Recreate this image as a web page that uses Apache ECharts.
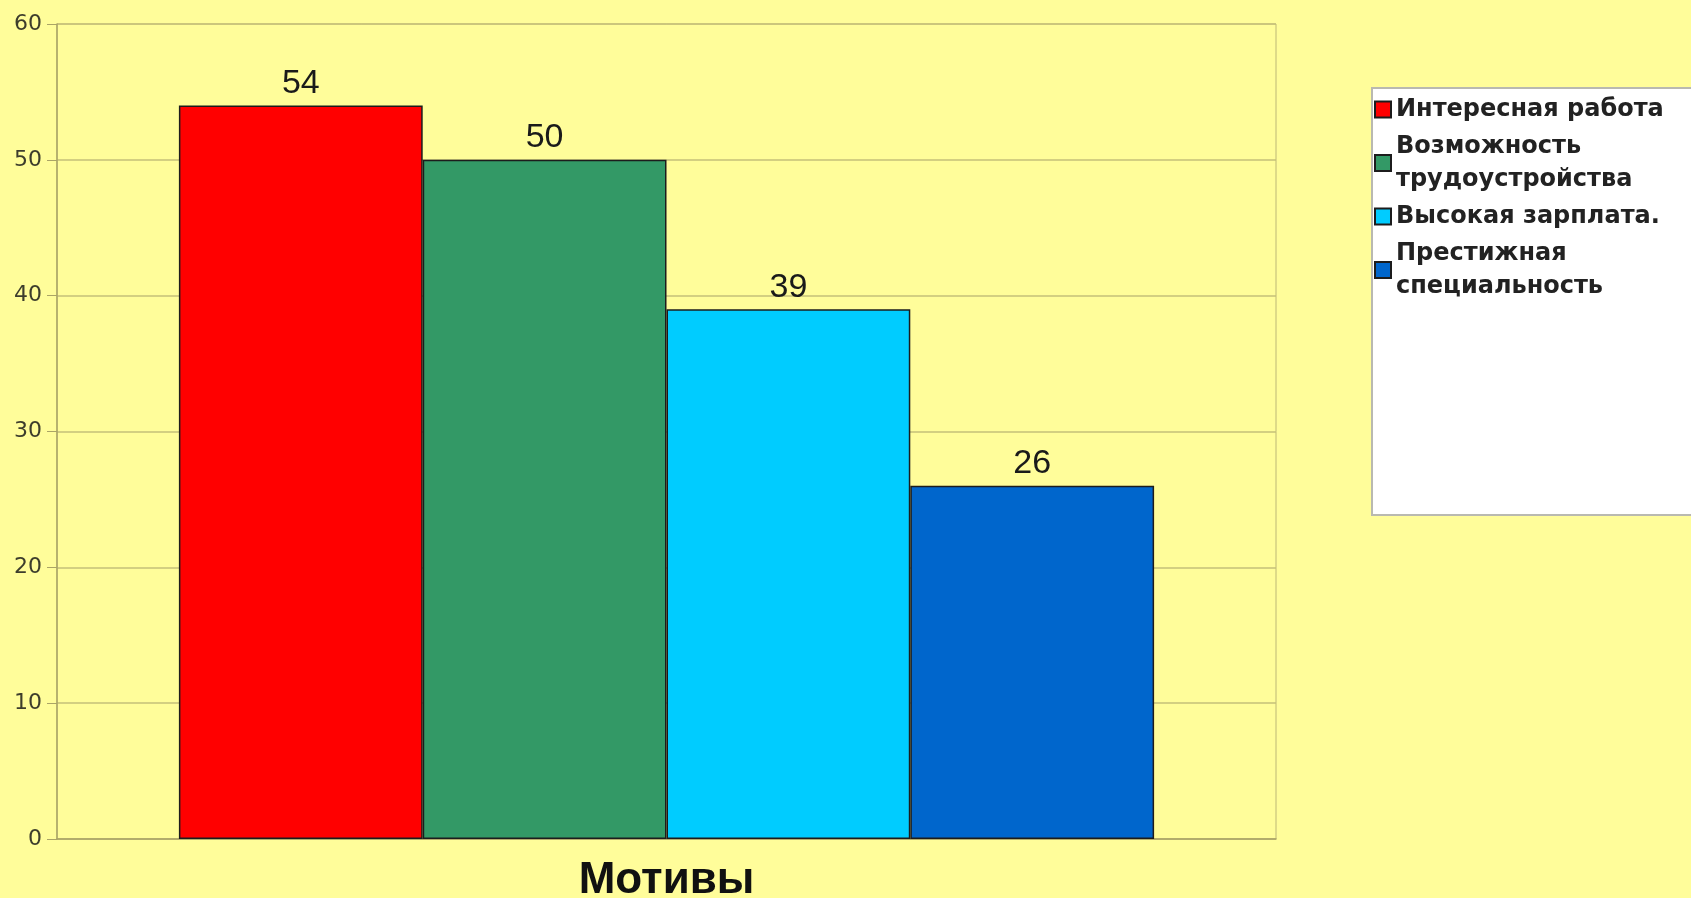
<!DOCTYPE html>
<html>
<head>
<meta charset="utf-8">
<script src="https://cdn.jsdelivr.net/npm/echarts@6/dist/echarts.min.js"></script>
<style>
  html, body { margin: 0; padding: 0; background: #fffd9a; }
  #chart { width: 1691px; height: 898px; }
</style>
</head>
<body>
<div id="chart"></div>
<script>
// данные диаграммы
const categories = ['Мотивы'];
const seriesNames = ['Интересная работа', 'Возможность трудоустройства', 'Высокая зарплата.', 'Престижная специальность'];
const seriesValues = [54, 50, 39, 26];
const seriesColors = ['#ff0000', '#339966', '#00ccff', '#0066cc'];
const legendLabels = {
  'Интересная работа': 'Интересная работа',
  'Возможность трудоустройства': 'Возможность\nтрудоустройства',
  'Высокая зарплата.': 'Высокая зарплата.',
  'Престижная специальность': 'Престижная\nспециальность'
};
const yTicks = [0, 10, 20, 30, 40, 50, 60];

const chart = echarts.init(document.getElementById('chart'));

let series = seriesNames.map((name, i) => {
  return {
    name: name,
    type: 'bar',
    data: [seriesValues[i]],
    barWidth: '20%',
    barGap: '0%',
    itemStyle: {
      color: seriesColors[i],
      borderColor: '#1c1c1c',
      borderWidth: 1.5
    },
    label: {
      show: true,
      position: 'top',
      distance: 5,
      color: '#1a1a1a',
      fontFamily: 'Liberation Sans',
      fontSize: 34
    }
  };
});

let option = {
  backgroundColor: '#fffd9a',
  animation: false,
  grid: {
    left: 57,
    right: 415,
    top: 24,
    bottom: 59,
    outerBoundsMode: 'none',
    show: true,
    backgroundColor: '#fffd9a',
    borderColor: '#bdb877',
    borderWidth: 1
  },
  legend: {
    orient: 'vertical',
    left: 1372,
    top: 88,
    data: seriesNames,
    padding: [5, 80, 212, 2],
    itemGap: 4,
    itemWidth: 16,
    itemHeight: 16,
    backgroundColor: '#ffffff',
    borderColor: '#b9b9b0',
    borderWidth: 2,
    icon: 'rect',
    formatter: function(name) {
      return legendLabels[name];
    },
    textStyle: {
      color: '#222',
      fontFamily: 'DejaVu Sans',
      fontWeight: 'bold',
      fontSize: 24,
      lineHeight: 33
    }
  },
  xAxis: {
    type: 'category',
    data: categories,
    name: categories[0],
    nameLocation: 'middle',
    nameGap: 20,
    nameTextStyle: {
      color: '#111',
      fontFamily: 'Liberation Sans',
      fontWeight: 'bold',
      fontSize: 44,
      verticalAlign: 'top'
    },
    axisLine: { lineStyle: { color: '#aaa466', width: 1.5 } },
    axisTick: { show: false },
    axisLabel: { show: false }
  },
  yAxis: {
    type: 'value',
    min: yTicks[0],
    max: yTicks[yTicks.length - 1],
    interval: 10,
    axisLine: { show: true, lineStyle: { color: '#aaa466', width: 1.5 } },
    axisTick: { show: true, length: 10, lineStyle: { color: '#aaa466' } },
    axisLabel: {
      margin: 15,
      color: '#3d3d2c',
      fontFamily: 'DejaVu Sans',
      fontSize: 22
    },
    splitLine: { lineStyle: { color: '#c4bf78', width: 1.5 } }
  },
  series: series
};

chart.setOption(option);
</script>
</body>
</html>
